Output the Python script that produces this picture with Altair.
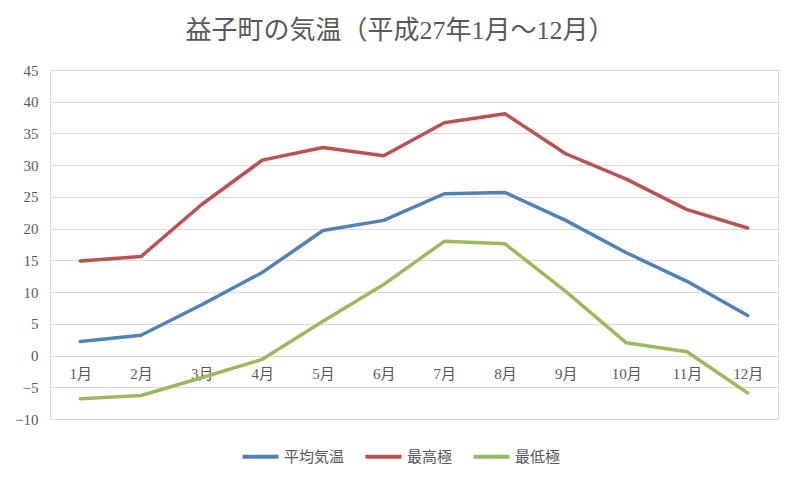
import altair as alt
import pandas as pd

months = ["1月", "2月", "3月", "4月", "5月", "6月", "7月", "8月", "9月", "10月", "11月", "12月"]
series_names = ["平均気温", "最高極", "最低極"]
avg_temp = [2.2, 3.2, 8.0, 13.1, 19.7, 21.3, 25.5, 25.7, 21.3, 16.2, 11.7, 6.3]
max_temp = [14.9, 15.6, 23.8, 30.8, 32.8, 31.5, 36.7, 38.1, 31.8, 27.8, 23.0, 20.1]
min_temp = [-6.8, -6.3, -3.5, -0.6, 5.4, 11.2, 18.0, 17.6, 10.1, 2.0, 0.6, -5.9]
colors = ["#4F81BD", "#C0504D", "#9BBB59"]
y_ticks = [-10, -5, 0, 5, 10, 15, 20, 25, 30, 35, 40, 45]

rows = []
for name, vals in zip(series_names, [avg_temp, max_temp, min_temp]):
    for m, v in zip(months, vals):
        rows.append({"month": m, "series": name, "value": v})
df = pd.DataFrame(rows)

serif = "Liberation Serif, Noto Sans CJK JP"
sans = "Noto Sans CJK JP"

chart = alt.Chart(df).mark_line(strokeWidth=3.5, strokeCap="round", strokeJoin="round").encode(
    x=alt.X("month:N", sort=months, title=None,
            scale=alt.Scale(paddingOuter=0.5),
            axis=alt.Axis(orient="bottom", offset=-63.5, domain=False, ticks=False,
                          labelAngle=0, labelFont=serif, labelFontSize=15,
                          labelColor="#595959", labelPadding=11, grid=False)),
    y=alt.Y("value:Q", title=None,
            scale=alt.Scale(domain=[-10, 45], nice=False, zero=False),
            axis=alt.Axis(values=y_ticks, domain=False, ticks=False, labelFont=serif,
                          labelFontSize=15, labelColor="#595959", labelPadding=12,
                          gridColor="#D9D9D9", gridWidth=1)),
    color=alt.Color("series:N", sort=series_names,
                    scale=alt.Scale(domain=series_names, range=colors),
                    legend=alt.Legend(title=None, orient="none", direction="horizontal",
                                      legendX=190, legendY=366,
                                      symbolType="stroke", symbolSize=1300,
                                      symbolStrokeWidth=4, labelFont=sans,
                                      labelFontSize=15, labelColor="#595959",
                                      columnPadding=12, labelOffset=3)),
).properties(
    width=728,
    height=349,
    autosize=alt.AutoSizeParams(type="none"),
    padding={"left": 42, "top": 62, "right": 14, "bottom": 62},
    title=alt.TitleParams("益子町の気温（平成27年1月～12月）", font=serif, fontSize=26,
                          fontWeight="normal", color="#595959", anchor="middle",
                          dx=-14, offset=19),
).configure_view(stroke=None).configure(background="white")

chart.save("out.html", embed_options={"renderer": "svg", "actions": False})
